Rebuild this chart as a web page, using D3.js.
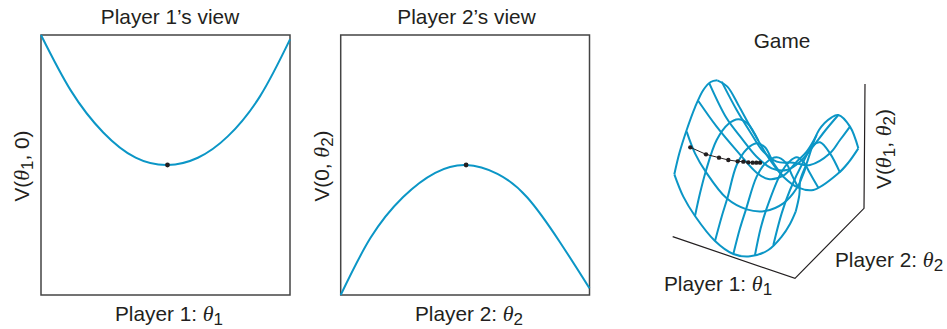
<!DOCTYPE html>
<html><head><meta charset="utf-8"><script src="https://cdn.jsdelivr.net/npm/d3@7"></script>
<style>html,body{margin:0;padding:0;background:#fff}svg{display:block}text{font-family:"Liberation Sans",Arial,sans-serif;fill:#231f20}tspan.g{font-family:"Liberation Serif","DejaVu Serif",serif;font-style:italic}</style>
</head><body><svg id="c" width="947" height="329"></svg>
<script>
// Player views: theta as % of axis, V as % of axis
const p1Theta=[0,12,25,38,50.8,63,75,88,100];
const p1Value=[100,78.6,62.5,52.8,50,52.8,61,76.5,98.3];
const p2Theta=[0,12,25,38,50.4,63,75,88,100];
const p2Value=[0,22,37.6,47,50,46.6,37.5,20.5,2.6];
const p1Rest=[50.8,50], p2Rest=[50.4,50];

// Game surface wireframe, in projected picture units (0-921 by 0-900)
const uFront=[[103,463],[130,530],[165,588],[225,663],[280,702],[330,709],[385,690],[425,650],[450,612],[467,575]];
const u2=[[140,335],[165,400],[197,455],[260,535],[320,568],[375,573],[430,550],[470,505],[500,435]];
const u3=[[175,243],[230,320],[290,392],[350,458],[385,477],[430,467],[470,425],[500,395],[530,345]];
const u4=[[208,190],[260,295],[305,355],[350,410],[395,445],[440,450],[480,425],[520,378],[557,330],[595,285]];
const u5=[[245,185],[290,270],[330,335],[370,395],[410,425],[460,428],[510,435],[570,400],[600,360],[630,320]];
const uBack=[[232,181],[262,200],[295,255],[325,310],[355,362],[390,420],[430,470],[475,503],[520,510],[595,460],[625,428],[655,385]];
const a0=[[103,463],[118,400],[140,330],[165,262],[190,210],[212,186],[232,181]];
const a1=[[165,588],[180,520],[197,455],[230,360],[265,312],[295,298],[322,310],[355,362]];
const a2=[[225,663],[245,590],[262,535],[290,435],[320,388],[350,370],[375,382],[400,428],[430,470]];
const a3=[[280,702],[300,625],[318,568],[350,470],[378,428],[410,412],[437,428],[458,470],[475,503]];
const a4=[[345,705],[362,625],[380,565],[425,455],[448,425],[470,412],[490,425],[510,460],[535,503]];
const a5=[[400,675],[425,580],[450,510],[490,425],[520,375],[540,367],[570,400],[600,458]];
const a6=[[467,575],[478,525],[481,480],[500,430],[537,330],[575,292],[595,285],[630,320],[655,385]];
const wire=[uFront,u2,u3,u4,u5,uBack,a0,a1,a2,a3,a4,a5,a6];
const path3d=[[151,382],[198,403],[237,413],[265,420],[293,424],[310,425],[325,427],[338,428],[349,428],[360,428]];
const axes3d=[[98,650],[465,775],[672,565],[675,192]];

const BLUE="#0b96c6",INK="#231f20",FS=20.8,TH=22,SB=17;
const svg=d3.select("#c");

function sub(t,parts){
  parts.forEach(p=>{const s=t.append("tspan").text(p[0]);
    if(p[1])s.attr("class",p[1]);
    if(p[2])s.attr("dy",p[2]);
    if(p[3])s.attr("font-size",p[3]);});
}
const th=["θ","g",0,TH],dn=(n)=>[n,null,4,SB],up=(t)=>[t,null,-4,FS];
function panel(x0,x1,ths,vals,rest,title,titleX,xParts,xLabelX,yParts,yLabelX,yLabelY){
  const x=d3.scaleLinear().domain([0,100]).range([x0,x1]);
  const y=d3.scaleLinear().domain([0,100]).range([295,35]);
  svg.append("rect").attr("x",x(0)).attr("y",y(100)).attr("width",x(100)-x(0)).attr("height",y(0)-y(100))
    .attr("fill","none").attr("stroke","#444").attr("stroke-width",1.5);
  svg.append("path").datum(d3.zip(ths,vals))
    .attr("d",d3.line().x(d=>x(d[0])).y(d=>y(d[1])).curve(d3.curveNatural))
    .attr("fill","none").attr("stroke",BLUE).attr("stroke-width",2);
  svg.append("circle").attr("cx",x(rest[0])).attr("cy",y(rest[1])).attr("r",2.4).attr("fill",INK);
  svg.append("text").attr("x",titleX).attr("y",24).attr("text-anchor","middle").attr("font-size",FS).text(title);
  sub(svg.append("text").attr("x",xLabelX).attr("y",321).attr("text-anchor","middle").attr("font-size",FS),xParts);
  sub(svg.append("text").attr("transform",`translate(${yLabelX},${yLabelY}) rotate(-90)`).attr("text-anchor","middle").attr("font-size",FS),yParts);
}
panel(41,290,p1Theta,p1Value,p1Rest,"Player 1’s view",170,[["Player 1: "],th,dn("1")],169,
  [["V("],th,dn("1"),up(", 0)")],29,166);
panel(340.7,589.5,p2Theta,p2Value,p2Rest,"Player 2’s view",466.5,[["Player 2: "],th,dn("2")],469,
  [["V(0, "],th,dn("2"),up(")")],329,166);

// Game
const gx=d3.scaleLinear().domain([0,921]).range([640,947]);
const gy=d3.scaleLinear().domain([0,900]).range([20,320]);
const line=d3.line().x(d=>gx(d[0])).y(d=>gy(d[1]));
svg.append("path").datum(axes3d).attr("d",line).attr("fill","none").attr("stroke",INK).attr("stroke-width",1.2);
svg.selectAll("path.w").data(wire).join("path").attr("class","w")
  .attr("d",d3.line().x(d=>gx(d[0])).y(d=>gy(d[1])).curve(d3.curveCatmullRom)).attr("fill","none").attr("stroke",BLUE).attr("stroke-width",2);
svg.append("path").datum(path3d).attr("d",line).attr("fill","none").attr("stroke",INK).attr("stroke-width",1);
svg.selectAll("circle.p").data(path3d).join("circle").attr("class","p")
  .attr("cx",d=>gx(d[0])).attr("cy",d=>gy(d[1])).attr("r",2.2).attr("fill",INK);
svg.append("text").attr("x",782).attr("y",48).attr("text-anchor","middle").attr("font-size",FS).text("Game");
sub(svg.append("text").attr("x",664).attr("y",291).attr("font-size",FS),[["Player 1: "],th,dn("1")]);
sub(svg.append("text").attr("x",835).attr("y",267).attr("font-size",FS),[["Player 2: "],th,dn("2")]);
sub(svg.append("text").attr("transform","translate(891,149) rotate(-90)").attr("text-anchor","middle").attr("font-size",FS),
  [["V("],th,dn("1"),up(", "),th,dn("2"),up(")")]);
</script></body></html>
